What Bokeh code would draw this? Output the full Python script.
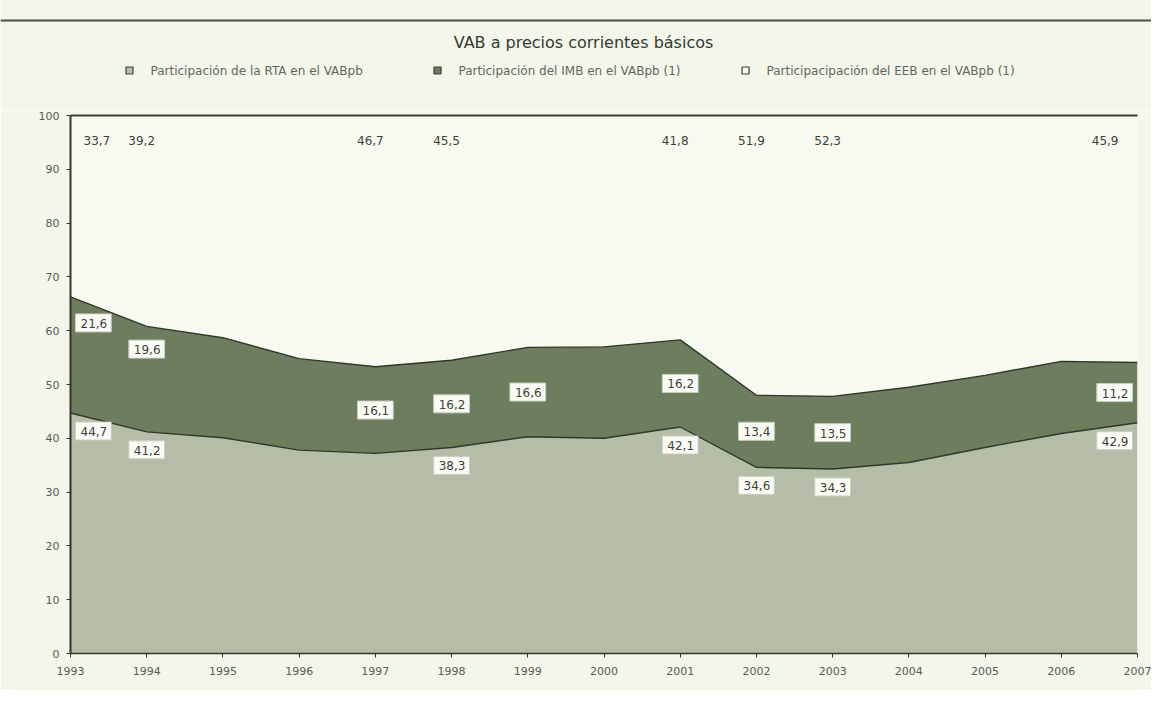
from bokeh.plotting import figure
from bokeh.models import Range1d, FixedTicker, LinearAxis, ColumnDataSource
from bokeh.layouts import column
from bokeh.core.properties import value
from bokeh.embed import file_html
from bokeh.resources import INLINE

# ---------------- data ----------------
years = [1993, 1994, 1995, 1996, 1997, 1998, 1999, 2000, 2001, 2002, 2003, 2004, 2005, 2006, 2007]
rta = [44.7, 41.2, 40.1, 37.8, 37.2, 38.3, 40.3, 40.0, 42.1, 34.6, 34.3, 35.5, 38.3, 40.9, 42.9]
imb = [21.6, 19.6, 18.6, 17.0, 16.1, 16.2, 16.6, 17.0, 16.2, 13.4, 13.5, 14.0, 13.4, 13.4, 11.2]
eeb = [33.7, 39.2, 41.3, 45.2, 46.7, 45.5, 43.1, 43.0, 41.8, 51.9, 52.3, 50.5, 48.3, 45.7, 45.9]

rta_label_years = [1993, 1994, 1998, 2001, 2002, 2003, 2007]
imb_label_years = [1993, 1994, 1997, 1998, 1999, 2001, 2002, 2003, 2007]
eeb_label_years = [1993, 1994, 1997, 1998, 2001, 2002, 2003, 2007]

title_text = "VAB a precios corrientes básicos"
legend_labels = ["Participación de la RTA en el VABpb",
                 "Participación del IMB en el VABpb (1)",
                 "Participacipación del EEB en el VABpb (1)"]
y_ticks = [0, 10, 20, 30, 40, 50, 60, 70, 80, 90, 100]

# ---------------- style ----------------
FONT = "DejaVu Sans"
C_RTA = "#b4bda7"
C_IMB = "#6d7d5d"
C_EEB = "#f8f9f1"
C_PAGE = "#f3f6eb"
C_LINE = "#2e3829"
C_TEXT = "#3c4238"
C_AXT = "#575c54"

W = 1151
HEAD_H = 110
MAIN_H = 580

# ---------------- header (rule, title, legend) ----------------
hd = figure(width=W, height=HEAD_H, output_backend="svg", toolbar_location=None,
            x_range=Range1d(0, W), y_range=Range1d(HEAD_H, 0),
            min_border=0, x_axis_type=None, y_axis_type=None)
hd.frame_align = False
hd.background_fill_color = C_PAGE
hd.border_fill_color = C_PAGE
hd.outline_line_color = None
hd.grid.visible = False

hd.segment(x0=[0], y0=[20], x1=[W], y1=[20], line_color="#4a5346", line_width=2)
hd.text(x=[583], y=[42], text=[title_text], text_align="center", text_baseline="middle",
        text_font=value(FONT), text_font_size="16px", text_color="#333a30")

leg_x = [129, 437, 745]
leg_fill = [C_RTA, C_IMB, "#f8f9f1"]
hd.rect(x=leg_x, y=[70] * 3, width=7, height=7, fill_color=leg_fill,
        line_color="#3a4236", line_width=1.2)
hd.text(x=[lx + 21 for lx in leg_x], y=[70] * 3, text=legend_labels, text_align="left",
        text_baseline="middle", text_font=value(FONT), text_font_size="12px",
        text_color="#61665e")

# ---------------- main chart ----------------
p = figure(width=W, height=MAIN_H, output_backend="svg", toolbar_location=None,
           x_range=Range1d(years[0], years[-1]), y_range=Range1d(0, 100),
           min_border_left=70, min_border_right=14, min_border_top=5, min_border_bottom=37)
p.frame_align = False
p.background_fill_color = C_EEB
p.border_fill_color = C_PAGE
p.outline_line_color = None
p.grid.visible = False

top_total = [a + b for a, b in zip(rta, imb)]
full = [t + e for t, e in zip(top_total, eeb)]
src = ColumnDataSource(dict(x=years, rta=rta, tot=top_total, full=full, zero=[0] * len(years)))

p.varea(x="x", y1="tot", y2="full", source=src, fill_color=C_EEB)
p.varea(x="x", y1="zero", y2="rta", source=src, fill_color=C_RTA)
p.varea(x="x", y1="rta", y2="tot", source=src, fill_color=C_IMB)
p.line(x="x", y="rta", source=src, line_color=C_LINE, line_width=1.4)
p.line(x="x", y="tot", source=src, line_color=C_LINE, line_width=1.4)

p.xaxis.ticker = FixedTicker(ticks=years)
p.yaxis.ticker = FixedTicker(ticks=y_ticks)
for ax in (p.xaxis[0], p.yaxis[0]):
    ax.axis_line_color = C_LINE
    ax.major_tick_line_color = C_LINE
    ax.minor_tick_line_color = None
    ax.major_tick_in = 0
    ax.major_tick_out = 4
    ax.major_label_text_font = FONT
    ax.major_label_text_font_size = "11px"
    ax.major_label_text_color = C_AXT
    ax.major_label_standoff = 7
p.xaxis.major_label_standoff = 9
p.yaxis.axis_line_width = 2
p.xaxis.axis_line_width = 1.5

top_ax = LinearAxis(axis_line_color="#3a4236", axis_line_width=2,
                    major_tick_line_color=None, minor_tick_line_color=None,
                    major_tick_out=0, major_tick_in=0, major_label_standoff=0,
                    major_label_text_font_size="0px", ticker=FixedTicker(ticks=[]))
p.add_layout(top_ax, "above")


def fmt(v):
    return f"{v:.1f}".replace(".", ",")


def aligns(yrs):
    al, xo = [], []
    for y in yrs:
        if y == years[0]:
            al.append("left"); xo.append(5)
        elif y == years[-1]:
            al.append("right"); xo.append(-5)
        else:
            al.append("center"); xo.append(0)
    return al, xo


box_style = dict(text_font=value(FONT), text_font_size="12px", text_color=C_TEXT,
                 text_baseline="middle", background_fill_color="#fbfbf6",
                 border_line_color="#c9cfbf", border_line_width=1, padding=[5, 4, 5, 4])

# RTA labels
ry = [rta[years.index(y)] for y in rta_label_years]
al, xo = aligns(rta_label_years)
p.text(x=rta_label_years, y=ry, text=[fmt(v) for v in ry], text_align=al, x_offset=xo,
       y_offset=18, **box_style)

# IMB labels (centre of band)
imb_nudge = {1993: -32, 1994: -30}
iy = [rta[years.index(y)] + imb[years.index(y)] / 2 for y in imb_label_years]
iv = [imb[years.index(y)] for y in imb_label_years]
al, xo = aligns(imb_label_years)
p.text(x=imb_label_years, y=iy, text=[fmt(v) for v in iv], text_align=al, x_offset=xo,
       y_offset=[imb_nudge.get(y, 0) for y in imb_label_years], **box_style)

# EEB labels near the top
ev = [eeb[years.index(y)] for y in eeb_label_years]
al, xo = aligns(eeb_label_years)
xo = [o + (8 if a == "left" else (-14 if a == "right" else -5)) for o, a in zip(xo, al)]
p.text(x=eeb_label_years, y=[100] * len(ev), text=[fmt(v) for v in ev], text_align=al,
       x_offset=xo, y_offset=25, text_font=value(FONT), text_font_size="12px",
       text_color=C_TEXT, text_baseline="middle")

layout = column(hd, p, spacing=0)
open("out.html", "w").write(file_html(layout, INLINE))
